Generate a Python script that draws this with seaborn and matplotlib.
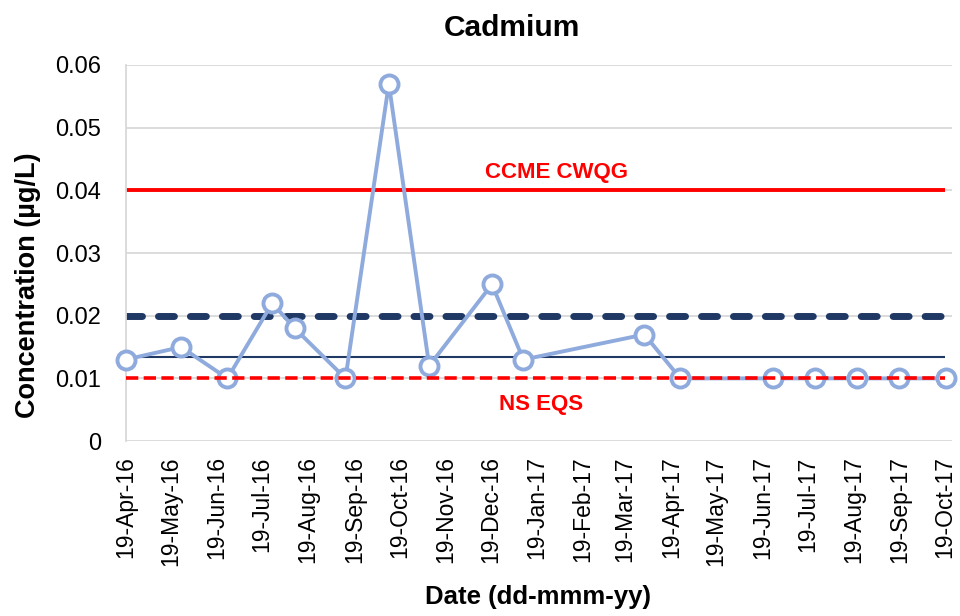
import matplotlib
matplotlib.use("Agg")
import matplotlib.pyplot as plt
import matplotlib.dates as mdates
import numpy as np
import pandas as pd
import seaborn as sns

# Sampling dates and measured cadmium concentrations (µg/L)
sample_dates = ["2016-04-19", "2016-05-26", "2016-06-26", "2016-07-26", "2016-08-10",
                "2016-09-13", "2016-10-12", "2016-11-08", "2016-12-20", "2017-01-10",
                "2017-04-01", "2017-04-25", "2017-06-26", "2017-07-24", "2017-08-21",
                "2017-09-18", "2017-10-20"]
cadmium = [0.013, 0.015, 0.010, 0.022, 0.018, 0.010, 0.057, 0.012, 0.025, 0.013,
           0.017, 0.010, 0.010, 0.010, 0.010, 0.010, 0.010]

# Guideline / reference levels
ccme_cwqg = 0.04
ns_eqs = 0.01
upper_ref = 0.02
baseline_ref = 0.0134

tick_dates = pd.date_range("2016-04-01", "2017-10-01", freq="MS") + pd.Timedelta(days=18)
y_ticks = [0, 0.01, 0.02, 0.03, 0.04, 0.05, 0.06]
y_tick_labels = ["0", "0.01", "0.02", "0.03", "0.04", "0.05", "0.06"]

df = pd.DataFrame({"Date": pd.to_datetime(sample_dates), "Cadmium": cadmium})

sns.set_style("white")
plt.rcParams["font.family"] = ["Liberation Sans", "DejaVu Sans"]
plt.rcParams["text.color"] = "black"
plt.rcParams["axes.labelcolor"] = "black"

fig = plt.figure(figsize=(9.6, 6.16), dpi=100)
ax = fig.add_axes([0.131, 0.284, 0.861, 0.6105])

x0 = tick_dates[0]
x1 = tick_dates[-1]

# Horizontal gridlines
for yv in y_ticks:
    ax.axhline(yv, color="#d9d9d9", lw=1.3, zorder=0)

ax.hlines(ccme_cwqg, x0, x1, color="#ff0000", lw=2.8, zorder=2)
ax.hlines(upper_ref, x0, x1, color="#1f3864", lw=5, linestyles=(0, (2.3, 2.3)),
          capstyle="round", zorder=2)
ax.hlines(baseline_ref, x0, x1, color="#1f3864", lw=1.5, zorder=2)
ax.hlines(ns_eqs, x0, x1, color="#ff0000", lw=2.6, linestyles=(0, (3.4, 1.5)), zorder=4)

sns.lineplot(data=df, x="Date", y="Cadmium", ax=ax, color="#8faadc", lw=2.8,
             marker="o", markersize=13, markerfacecolor="white",
             markeredgecolor="#8faadc", markeredgewidth=2.8, zorder=3, clip_on=False)

ax.text(pd.Timestamp("2017-02-01"), 0.0429, "CCME CWQG", color="#ff0000",
        fontsize=16, fontweight="bold", ha="center", va="center")
ax.text(pd.Timestamp("2017-01-22"), 0.0059, "NS EQS", color="#ff0000",
        fontsize=16, fontweight="bold", ha="center", va="center")

ax.set_xlim(x0, x1 + pd.Timedelta(days=5))
ax.set_ylim(0, 0.06)
ax.set_yticks(y_ticks)
ax.set_yticklabels(y_tick_labels, fontsize=17)
ax.set_xticks(tick_dates)
ax.xaxis.set_major_formatter(mdates.DateFormatter("%d-%b-%y"))
plt.setp(ax.get_xticklabels(), rotation=90, fontsize=16.5)

for side in ["top", "right", "bottom"]:
    ax.spines[side].set_visible(False)
ax.spines["left"].set_color("#d9d9d9")
ax.spines["left"].set_linewidth(1.3)
ax.tick_params(axis="x", length=6, width=1.3, color="#d9d9d9", pad=5, labelcolor="black")
ax.tick_params(axis="y", length=5.8, width=1.3, color="#d9d9d9", pad=12, labelcolor="black")

# Title and axis labels, positioned in figure coordinates
fig.text(512 / 960, 1 - 28 / 616, "Cadmium", fontsize=21.5, fontweight="bold",
         ha="center", va="center")
ax.set_ylabel("Concentration (µg/L)", fontsize=19.5, fontweight="bold")
ax.yaxis.set_label_coords(28 / 960, 1 - 285 / 616, transform=fig.transFigure)
ax.yaxis.label.set_va("center")
ax.set_xlabel("Date (dd-mmm-yy)", fontsize=18.5, fontweight="bold")
ax.xaxis.set_label_coords(538 / 960, 1 - 597 / 616, transform=fig.transFigure)
ax.xaxis.label.set_va("center")

fig.savefig("out.png", dpi=100)
